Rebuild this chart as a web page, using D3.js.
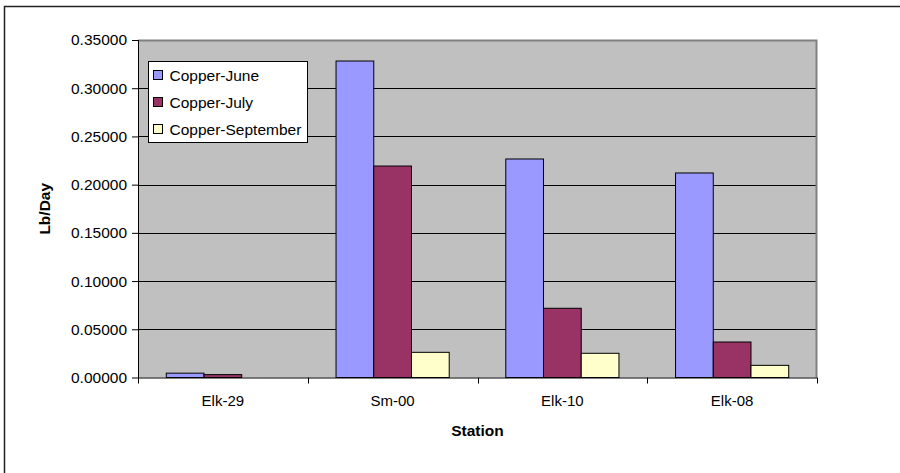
<!DOCTYPE html>
<html>
<head>
<meta charset="utf-8">
<script src="https://cdnjs.cloudflare.com/ajax/libs/d3/7.8.5/d3.min.js"></script>
<style>
  body { margin: 0; background: #fff; }
  text { font-family: "Liberation Sans", Arial, sans-serif; }
</style>
</head>
<body>
<svg id="chart_svg"></svg>
<script>
var viewWidth = 900;
var viewHeight = 473;

// data
var stations = ["Elk-29", "Sm-00", "Elk-10", "Elk-08"];
var seriesNames = ["Copper-June", "Copper-July", "Copper-September"];
var copperJune = [0.0045, 0.3282, 0.2266, 0.2121];
var copperJuly = [0.0030, 0.2193, 0.0718, 0.0368];
var copperSept = [null, 0.0261, 0.0251, 0.0126];
var seriesColors = ["#9999ff", "#993366", "#ffffcc"];
var yTicks = [0, 0.05, 0.10, 0.15, 0.20, 0.25, 0.30, 0.35];

var margin = {top: 40, right: 83, bottom: 95.5, left: 138};
var width = viewWidth - margin.left - margin.right;
var height = viewHeight - margin.top - margin.bottom;

var svg = d3.select("#chart_svg")
    .attr("width", viewWidth)
    .attr("height", viewHeight);

// outer chart frame (runs off the right and bottom edge)
svg.append("rect")
    .attr("x", 4.5)
    .attr("y", 6.5)
    .attr("width", 1000)
    .attr("height", 1000)
    .style("fill", "none")
    .style("stroke", "#222")
    .style("stroke-width", 1.5);

var g = svg.append("g")
    .attr("transform", "translate(" + margin.left + "," + margin.top + ")");

var x0 = d3.scaleBand()
    .domain(stations)
    .range([0, width]);
var x1 = d3.scaleBand()
    .domain(seriesNames)
    .range([0, x0.bandwidth()])
    .paddingOuter(0.75);
var y = d3.scaleLinear()
    .domain([0, 0.35])
    .range([height, 0]);

// plot background
g.append("rect")
    .attr("width", width)
    .attr("height", height)
    .style("fill", "#c0c0c0");

// gridlines
g.selectAll(".grid")
    .data(yTicks.filter(function(d) { return d > 0 && d < 0.35; }))
    .enter().append("line")
    .attr("class", "grid")
    .attr("x1", 0)
    .attr("x2", width)
    .attr("y1", function(d) { return Math.round(y(d)) + 0.5; })
    .attr("y2", function(d) { return Math.round(y(d)) + 0.5; })
    .style("stroke", "#000")
    .style("stroke-width", 1);

// gray top and right border of plot area
g.append("path")
    .attr("d", "M0,0.5H" + (width - 0.5) + "V" + height)
    .style("fill", "none")
    .style("stroke", "#808080")
    .style("stroke-width", 2);

var rows = stations.map(function(s, i) {
  return {station: s, values: [copperJune[i], copperJuly[i], copperSept[i]]};
});

var groups = g.selectAll(".station")
    .data(rows)
    .enter().append("g")
    .attr("class", "station")
    .attr("transform", function(d) { return "translate(" + x0(d.station) + ",0)"; });

groups.selectAll("rect")
    .data(function(d) {
      return d.values.map(function(v, k) { return {name: seriesNames[k], value: v, k: k}; })
        .filter(function(e) { return e.value != null; });
    })
    .enter().append("rect")
    .attr("x", function(d) { return x1(d.name); })
    .attr("y", function(d) { return y(d.value); })
    .attr("width", x1.bandwidth())
    .attr("height", function(d) { return height - y(d.value); })
    .style("fill", function(d) { return seriesColors[d.k]; })
    .style("stroke", "#000")
    .style("stroke-width", 1);

// y axis
var yAxis = d3.axisLeft(y)
    .tickValues(yTicks)
    .tickFormat(d3.format(".5f"))
    .tickSize(6)
    .tickPadding(5);
var yg = g.append("g")
    .attr("class", "y axis")
    .call(yAxis);
yg.select(".domain").remove();
yg.selectAll("line").style("stroke", "#000");
yg.selectAll("text")
    .style("font-size", "15.5px")
    .style("fill", "#000");
g.append("line")
    .attr("x1", 0.5).attr("x2", 0.5)
    .attr("y1", 0).attr("y2", height + 1)
    .style("stroke", "#000");

// x axis
g.append("line")
    .attr("x1", 0).attr("x2", width)
    .attr("y1", height + 0.5).attr("y2", height + 0.5)
    .style("stroke", "#000");
g.selectAll(".xtick")
    .data(stations.concat(["end"]))
    .enter().append("line")
    .attr("class", "xtick")
    .attr("x1", function(d, i) { return Math.round(i * x0.step()) + 0.5; })
    .attr("x2", function(d, i) { return Math.round(i * x0.step()) + 0.5; })
    .attr("y1", height)
    .attr("y2", height + 6)
    .style("stroke", "#000");
g.selectAll(".xlabel")
    .data(stations)
    .enter().append("text")
    .attr("class", "xlabel")
    .attr("x", function(d) { return x0(d) + x0.bandwidth() / 2; })
    .attr("y", height + 28)
    .style("text-anchor", "middle")
    .style("font-size", "15px")
    .text(function(d) { return d; });

// axis titles
g.append("text")
    .attr("x", width / 2)
    .attr("y", height + 58)
    .style("text-anchor", "middle")
    .style("font-size", "15.5px")
    .style("font-weight", "bold")
    .text("Station");
g.append("text")
    .attr("transform", "translate(" + (-88) + "," + (height / 2) + ") rotate(-90)")
    .style("text-anchor", "middle")
    .style("font-size", "15.5px")
    .style("font-weight", "bold")
    .text("Lb/Day");

// legend
var legend = svg.append("g")
    .attr("transform", "translate(148.5,61.5)");
legend.append("rect")
    .attr("width", 159)
    .attr("height", 81)
    .style("fill", "#fff")
    .style("stroke", "#000");
var items = legend.selectAll(".item")
    .data(seriesNames)
    .enter().append("g")
    .attr("class", "item")
    .attr("transform", function(d, i) { return "translate(0," + (13.5 + i * 27) + ")"; });
items.append("rect")
    .attr("x", 5)
    .attr("y", -4.5)
    .attr("width", 9)
    .attr("height", 9)
    .style("fill", function(d, i) { return seriesColors[i]; })
    .style("stroke", "#000");
items.append("text")
    .attr("x", 21)
    .attr("y", 5.5)
    .style("font-size", "15.5px")
    .text(function(d) { return d; });
</script>
</body>
</html>
